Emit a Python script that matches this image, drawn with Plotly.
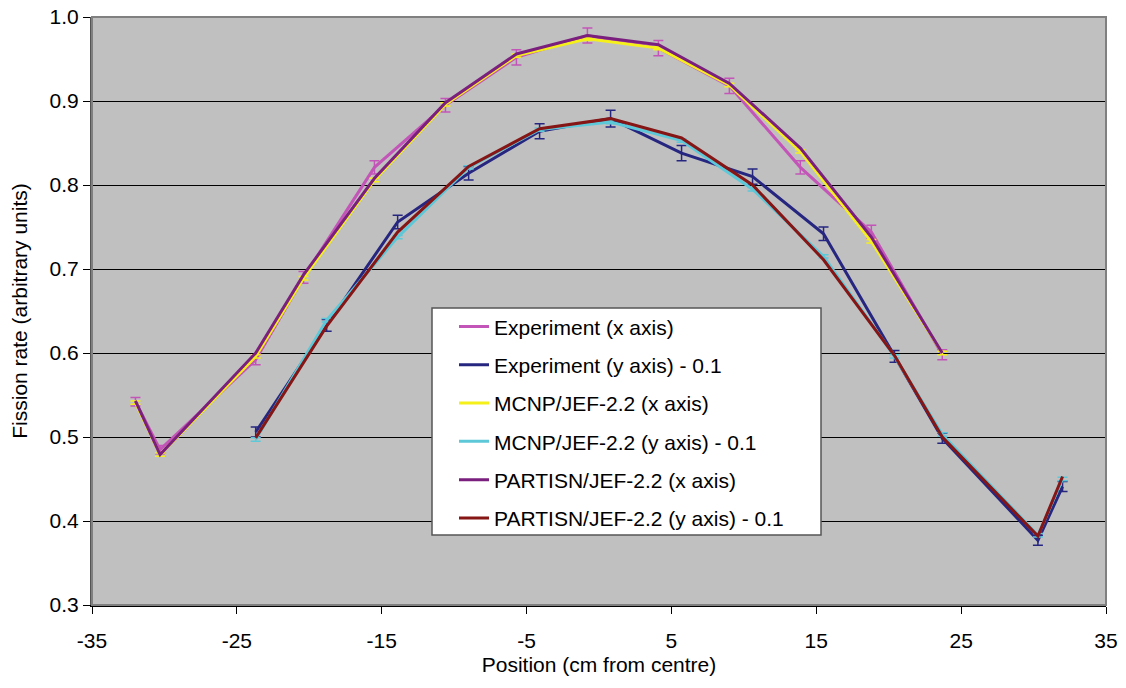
import plotly.graph_objects as go

# Positions (cm from centre)
pos_x = [-32.0, -30.3, -23.7, -20.4, -15.5, -10.6, -5.7, -0.8, 4.1, 9.0, 13.9, 18.8, 23.7]
pos_y = [-23.7, -18.8, -13.9, -9.0, -4.1, 0.8, 5.7, 10.6, 15.5, 20.4, 23.7, 30.3, 32.0]

# Experiment
exp_x = [0.542, 0.485, 0.592, 0.690, 0.821, 0.895, 0.952, 0.978, 0.963, 0.918, 0.821, 0.744, 0.598]
exp_x_err = [0.005, 0.005, 0.006, 0.007, 0.008, 0.008, 0.009, 0.009, 0.009, 0.009, 0.008, 0.008, 0.006]
exp_y = [0.506, 0.633, 0.756, 0.814, 0.864, 0.879, 0.838, 0.810, 0.742, 0.596, 0.4985, 0.377, 0.441]
exp_y_err = [0.006, 0.007, 0.008, 0.008, 0.009, 0.010, 0.009, 0.009, 0.008, 0.007, 0.006, 0.006, 0.006]

# MCNP/JEF-2.2
mcnp_x = [0.541, 0.479, 0.596, 0.689, 0.806, 0.896, 0.954, 0.974, 0.963, 0.919, 0.840, 0.733, 0.600]
mcnp_y = [0.497, 0.639, 0.738, 0.821, 0.866, 0.875, 0.853, 0.795, 0.715, 0.596, 0.503, 0.383, 0.450]
mcnp_err = 0.002

# PARTISN/JEF-2.2
part_x = [0.543, 0.479, 0.600, 0.693, 0.808, 0.898, 0.956, 0.978, 0.967, 0.921, 0.844, 0.738, 0.600]
part_y = [0.499, 0.632, 0.744, 0.822, 0.867, 0.879, 0.856, 0.800, 0.711, 0.597, 0.500, 0.382, 0.453]

x_ticks = [-35, -25, -15, -5, 5, 15, 25, 35]
y_ticks = [0.3, 0.4, 0.5, 0.6, 0.7, 0.8, 0.9, 1.0]

FONT = "Liberation Sans, Arial, sans-serif"

series = [
    ("Experiment (x axis)", pos_x, exp_x, exp_x_err, "#C455B8"),
    ("Experiment (y axis) - 0.1", pos_y, exp_y, exp_y_err, "#262680"),
    ("MCNP/JEF-2.2 (x axis)", pos_x, mcnp_x, [mcnp_err] * len(pos_x), "#F5F01A"),
    ("MCNP/JEF-2.2 (y axis) - 0.1", pos_y, mcnp_y, [mcnp_err] * len(pos_y), "#5CC8D8"),
    ("PARTISN/JEF-2.2 (x axis)", pos_x, part_x, None, "#7A1F7E"),
    ("PARTISN/JEF-2.2 (y axis) - 0.1", pos_y, part_y, None, "#861515"),
]

fig = go.Figure()
for i, (name, xs, ys, err, col) in enumerate(series):
    kw = {}
    if err is not None:
        kw["error_y"] = dict(type="data", array=err, visible=True, color=col,
                             thickness=1.5, width=5)
    fig.add_trace(go.Scatter(x=xs, y=ys, name=name, mode="lines",
                             line=dict(color=col, width=3),
                             legendgroup=f"g{i}", **kw))

fig.update_layout(
    width=1126, height=688,
    margin=dict(l=92, r=20, t=17, b=83, autoexpand=False),
    paper_bgcolor="white",
    plot_bgcolor="#C0C0C0",
    font=dict(family=FONT, size=21, color="black"),
    showlegend=True,
    legend=dict(x=0.357, y=0.508, xanchor="left", yanchor="top",
                bgcolor="rgba(0,0,0,0)", borderwidth=0,
                font=dict(family=FONT, size=21, color="black"),
                tracegroupgap=8, itemwidth=30),
    shapes=[
        dict(type="rect", xref="paper", yref="paper",
             x0=(432 - 92) / 1014, x1=(821 - 92) / 1014,
             y0=(605 - 535) / 588, y1=(605 - 308) / 588,
             fillcolor="white", line=dict(color="#555555", width=1.5),
             layer="above"),
        dict(type="rect", xref="paper", yref="paper", x0=0, x1=1, y0=0, y1=1,
             fillcolor="rgba(0,0,0,0)", line=dict(color="#808080", width=2),
             layer="above"),
    ],
)

fig.update_xaxes(
    range=[-35, 35], tickvals=x_ticks, ticktext=[str(v) for v in x_ticks],
    showgrid=False, zeroline=False, automargin=False,
    showline=True, linecolor="black", linewidth=2,
    ticks="outside", ticklen=7, tickcolor="black", tickwidth=1,
    ticklabelstandoff=9,
    title=dict(text="Position (cm from centre)", standoff=6,
               font=dict(family=FONT, size=21)),
    tickfont=dict(family=FONT, size=21),
)
fig.update_yaxes(
    range=[0.3, 1.0], tickvals=y_ticks, ticktext=[f"{v:.1f}" for v in y_ticks],
    showgrid=True, gridcolor="black", gridwidth=1.2, zeroline=False,
    automargin=False,
    showline=True, linecolor="#555555", linewidth=2,
    ticks="outside", ticklen=7, tickcolor="black", tickwidth=1,
    title=dict(text="Fission rate (arbitrary units)", standoff=16,
               font=dict(family=FONT, size=21)),
    tickfont=dict(family=FONT, size=21),
)

fig.write_html("out.html")
